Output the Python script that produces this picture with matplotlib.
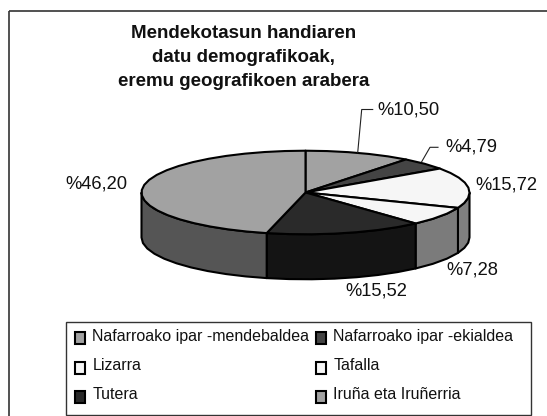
import numpy as np
import matplotlib
matplotlib.use("Agg")
import matplotlib.pyplot as plt
from matplotlib.patches import Polygon, Rectangle

plt.rcParams['font.family'] = ['Liberation Sans', 'DejaVu Sans']

title_lines = ["Mendekotasun handiaren", "datu demografikoak,", "eremu geografikoen arabera"]
categories = ["Nafarroako ipar -mendebaldea", "Nafarroako ipar -ekialdea", "Lizarra",
              "Tafalla", "Tutera", "Iruña eta Iruñerria"]
values = [10.50, 4.79, 15.72, 7.28, 15.52, 46.20]
labels = ["%10,50", "%4,79", "%15,72", "%7,28", "%15,52", "%46,20"]
top_colors = ["#a2a2a2", "#444444", "#f6f6f6", "#f6f6f6", "#2a2a2a", "#a2a2a2"]
wall_colors = ["#555555", "#222222", "#7f7f7f", "#7b7b7b", "#141414", "#555555"]

fig = plt.figure(figsize=(5.47, 4.16), dpi=100, facecolor="white")
ax = fig.add_axes([0, 0, 1, 1])
ax.set_xlim(0, 547)
ax.set_ylim(416, 0)
ax.axis("off")

# chart frame
ax.plot([9, 9], [416, 11], color="#333333", lw=1.2, solid_capstyle="butt")
ax.plot([9, 547], [11, 11], color="#333333", lw=1.2, solid_capstyle="butt")

for line, y in zip(title_lines, [34, 57.5, 81.5]):
    ax.text(244, y, line, ha="center", va="center", fontsize=13.5, fontweight="bold", color="#111111")

cx, cy, a, b, depth = 305.5, 192.5, 164.0, 41.8, 45.0
fractions = np.array(values) / sum(values)
edges = 2 * np.pi * np.concatenate([[0], np.cumsum(fractions)])


def arc(t0, t1):
    # coarse segments give the faceted outline of the original
    n = max(2, int(np.degrees(t1 - t0) / 7) + 1)
    t = np.linspace(t0, t1, n)
    return np.column_stack([cx + a * np.sin(t), cy - b * np.cos(t)])


# walls: only the front half of the ellipse is visible
for i in range(len(values)):
    t0 = max(edges[i], np.pi / 2)
    t1 = min(edges[i + 1], 3 * np.pi / 2)
    if t1 <= t0:
        continue
    rim = arc(t0, t1)
    low = rim[::-1] + np.array([0, depth])
    ax.add_patch(Polygon(np.vstack([rim, low]), closed=True, facecolor=wall_colors[i],
                         edgecolor="black", lw=1.5, joinstyle="round", zorder=2))

# top faces
for i in range(len(values)):
    pts = np.vstack([[cx, cy], arc(edges[i], edges[i + 1])])
    ax.add_patch(Polygon(pts, closed=True, facecolor=top_colors[i], edgecolor="black",
                         lw=1.5, joinstyle="round", zorder=3))

# data labels
label_pos = [(408, 110), (471, 146.5), (506, 185), (472, 270), (376, 291.5), (96.7, 184)]
for text, (x, y) in zip(labels, label_pos):
    ax.text(x, y, text, ha="center", va="center", fontsize=13.2, color="#111111", zorder=5)

# leader lines
ax.plot([357.7, 361.7, 372.7], [152.7, 109.5, 109.5], color="#222222", lw=0.8, zorder=4)
ax.plot([421.7, 430, 438], [161.7, 147.3, 147.3], color="#222222", lw=0.8, zorder=4)

# legend
ax.add_patch(Rectangle((65.7, 322), 465, 93.3, facecolor="white", edgecolor="#333333", lw=1, zorder=1))
swatch_x = [75.3, 316]
text_x = [92.3, 333.3]
swatch_y = [337.5, 367.5, 397]
text_y = [336.7, 365.7, 394.3]
for i, (name, color) in enumerate(zip(categories, top_colors)):
    col, row = i % 2, i // 2
    ax.add_patch(Rectangle((swatch_x[col], swatch_y[row] - 6), 9.7, 12, facecolor=color,
                           edgecolor="black", lw=1.5, zorder=3))
    ax.text(text_x[col], text_y[row], name, ha="left", va="center",
            fontsize=11.5, color="#111111", zorder=3)

fig.savefig("out.png", dpi=100, facecolor="white")
